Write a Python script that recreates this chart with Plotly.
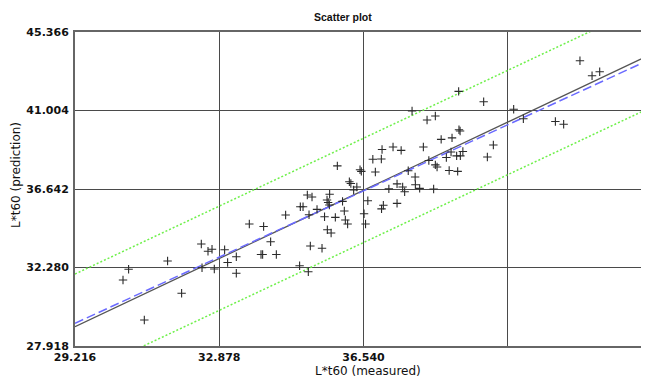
import numpy as np
import plotly.graph_objects as go

# ---- data ----
measured = [30.435, 30.577, 30.976, 31.567, 31.923, 32.423, 32.441, 32.593, 32.695, 32.753,
            33.015, 33.091, 33.312, 33.312, 33.642, 34.005, 34.183, 33.939, 33.980, 34.328,
            34.564, 34.937, 35.006, 35.115, 35.234, 35.158, 34.919, 35.140, 35.191, 35.488,
            35.361, 35.552, 35.615, 35.643, 35.674, 35.681, 35.826, 35.623, 35.719, 36.009,
            36.054, 36.080, 36.138, 36.182, 36.220, 36.291, 36.372, 36.555, 36.593, 36.651,
            36.999, 37.045, 37.185, 37.393, 37.393, 37.535, 37.586, 37.858, 37.967, 38.322,
            35.877, 36.453, 36.486, 36.842, 36.778, 36.994, 37.012, 37.291, 37.497, 38.061,
            37.677, 37.852, 38.200, 38.365, 38.409, 37.774, 38.155, 38.365, 38.513, 38.789,
            38.965, 38.993, 38.645, 38.764, 38.906, 39.000, 39.064, 38.716, 38.932, 38.957,
            39.592, 39.838, 39.686, 40.354, 40.600, 41.413, 41.623, 42.037, 42.344, 42.538]
predicted = [31.585, 32.179, 29.362, 32.640, 30.846, 33.585, 32.268, 33.179, 33.290, 32.196,
             33.268, 32.557, 32.879, 31.957, 34.696, 34.557, 33.712, 33.001, 33.001, 33.001,
             35.196, 35.657, 35.657, 36.307, 36.196, 35.212, 32.379, 32.046, 33.474, 33.346,
             35.512, 35.101, 36.029, 35.890, 35.751, 36.351, 35.068, 34.379, 34.196, 35.957,
             35.418, 34.918, 34.696, 37.046, 36.946, 36.585, 36.751, 35.268, 34.696, 35.985,
             35.540, 35.735, 36.651, 36.929, 35.846, 36.751, 36.490, 36.879, 36.679, 36.640,
             37.929, 37.712, 37.624, 37.585, 38.296, 38.307, 38.835, 38.974, 38.790, 38.974,
             37.657, 37.307, 38.224, 37.985, 37.862, 40.974, 40.474, 40.696, 39.401, 39.485,
             39.935, 39.868, 38.390, 38.696, 38.485, 38.485, 38.724, 37.668, 37.624, 42.068,
             41.490, 39.085, 38.418, 41.074, 40.546, 40.390, 40.240, 43.768, 42.935, 43.157]

x_ticks = [29.216, 32.878, 36.540, 40.202]
x_tick_labels = ["29.216", "32.878", "36.540", ""]
y_ticks = [27.918, 32.280, 36.642, 41.004, 45.366]
y_tick_labels = ["27.918", "32.280", "36.642", "41.004", "45.366"]
x_range = [29.216, 43.79]
y_range = [27.918, 45.366]

# line parameters: value at x = 29.216 and slope
black_line = {"y0": 28.99, "slope": 1.035}
blue_line = {"y0": 29.18, "slope": 1.004}
green_upper = {"y0": 31.918, "slope": 1.03}
green_lower = {"y0": 26.13, "slope": 1.029}

title_text = "Scatter plot"
x_title = "L*t60 (measured)"
y_title = "L*t60 (prediction)"

# ---- figure ----
xs = np.linspace(x_range[0], x_range[1], 200)


def line_y(p):
    return p["y0"] + p["slope"] * (xs - x_range[0])


fig = go.Figure()
fig.add_trace(go.Scatter(x=xs, y=line_y(green_upper), mode="lines",
                         line=dict(color="#6ef04a", width=1.5, dash="2px,2px"), hoverinfo="skip"))
fig.add_trace(go.Scatter(x=xs, y=line_y(green_lower), mode="lines",
                         line=dict(color="#6ef04a", width=1.5, dash="2px,2px"), hoverinfo="skip"))
fig.add_trace(go.Scatter(x=xs, y=line_y(black_line), mode="lines",
                         line=dict(color="#555555", width=1.3), hoverinfo="skip"))
fig.add_trace(go.Scatter(x=xs, y=line_y(blue_line), mode="lines",
                         line=dict(color="#6a6aff", width=1.5, dash="9px,4px"), hoverinfo="skip"))
fig.add_trace(go.Scatter(x=measured, y=predicted, mode="markers",
                         marker=dict(symbol="cross-thin", size=6, color="#333333",
                                     line=dict(color="#2a2a2a", width=1.1))))

tick_font = dict(family="DejaVu Sans", size=11, color="#111111")

# the page body has an 8px default margin, so the figure is sized to fit the window
fig.update_layout(
    width=641, height=370,
    margin=dict(l=67, r=0, t=24, b=32),
    paper_bgcolor="white", plot_bgcolor="white",
    showlegend=False,
    xaxis=dict(range=x_range, tickmode="array", tickvals=x_ticks,
               ticktext=[f"<b>{t}</b>" if t else "" for t in x_tick_labels],
               tickfont=tick_font, showgrid=True, gridcolor="#4a4a4a", gridwidth=1,
               showline=True, linecolor="#666666", linewidth=2, mirror=True,
               zeroline=False, ticks="", automargin=False),
    yaxis=dict(range=y_range, tickmode="array", tickvals=y_ticks,
               ticktext=[f"<b>{t}</b>" for t in y_tick_labels],
               tickfont=tick_font, showgrid=True, gridcolor="#4a4a4a", gridwidth=1,
               showline=True, linecolor="#666666", linewidth=2, mirror=False,
               zeroline=False, ticks="", automargin=False, ticklabelstandoff=2),
    annotations=[
        dict(text=f"<b>{title_text}</b>", xref="paper", yref="paper", x=0.467, y=1,
             yshift=15, showarrow=False, xanchor="center", yanchor="middle",
             font=dict(family="Liberation Sans", size=10.5, color="#111111")),
        dict(text=x_title, xref="paper", yref="paper", x=0.5105, y=0, yshift=-25,
             showarrow=False, xanchor="center", yanchor="middle",
             font=dict(family="DejaVu Sans", size=12, color="#111111")),
        dict(text=y_title, xref="paper", yref="paper", x=0, y=0.5446, xshift=-59,
             showarrow=False, xanchor="center", yanchor="middle", textangle=-90,
             font=dict(family="DejaVu Sans", size=12, color="#111111")),
    ],
)

fig.write_html("out.html")
